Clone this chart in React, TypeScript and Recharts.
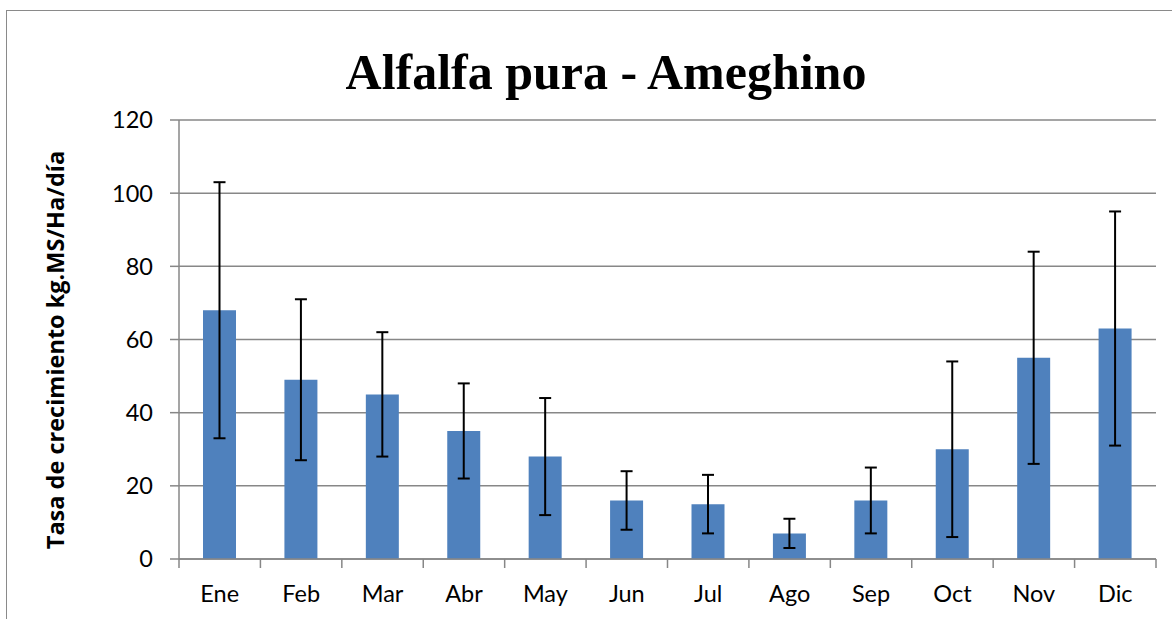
import React from 'react';
import { BarChart, Bar, XAxis, YAxis, CartesianGrid, ErrorBar } from 'recharts';

const months = ['Ene', 'Feb', 'Mar', 'Abr', 'May', 'Jun', 'Jul', 'Ago', 'Sep', 'Oct', 'Nov', 'Dic'];
const growth = [68, 49, 45, 35, 28, 16, 15, 7, 16, 30, 55, 63];
const errors = [35, 22, 17, 13, 16, 8, 8, 4, 9, 24, 29, 32];
const yTicks = [0, 20, 40, 60, 80, 100, 120];
const boundaryTicks = [0, 1, 2, 3, 4, 5, 6, 7, 8, 9, 10, 11, 12];

const data = months.map((m, i) => ({ month: m, value: growth[i], err: errors[i], pos: i + 0.5 }));

const tickFont = { fontFamily: 'Lato, "Open Sans", sans-serif', fontSize: 23.5, fill: '#000' };
const gray = '#878787';

const EmptyTick = () => <g />;

export default function App() {
  return (
    <div style={{ position: 'absolute', left: 0, top: 0, width: 1172, height: 619, overflow: 'hidden', background: '#fff' }}>
      <div style={{ position: 'absolute', left: 6, top: 10, width: 1300, height: 800, border: '1.5px solid #8a8a8a', boxSizing: 'border-box' }} />
      <div style={{ position: 'absolute', left: 0, top: 0 }}>
        <BarChart width={1172} height={619} data={data} margin={{ top: 120, right: 16, left: 0, bottom: 0 }} barSize={33}>
          <CartesianGrid vertical={false} stroke={gray} strokeWidth={1.5} />
          <XAxis
            dataKey="month"
            xAxisId="b_cat"
            height={59}
            tickLine={false}
            axisLine={false}
            tick={tickFont}
            tickMargin={19}
            interval={0}
          />
          <XAxis
            xAxisId="a_bounds"
            type="number"
            dataKey="pos"
            domain={[0, 12]}
            ticks={boundaryTicks}
            allowDataOverflow
            height={1}
            tick={EmptyTick}
            tickSize={9}
            tickLine={{ stroke: gray, strokeWidth: 1.5 }}
            axisLine={{ stroke: gray, strokeWidth: 1.5 }}
          />
          <YAxis
            width={179}
            domain={[0, 120]}
            ticks={yTicks}
            tick={tickFont}
            tickSize={9}
            tickMargin={17}
            tickLine={{ stroke: gray, strokeWidth: 1.5 }}
            axisLine={{ stroke: gray, strokeWidth: 1.5 }}
          />
          <Bar dataKey="value" xAxisId="b_cat" fill="#4F81BD" isAnimationActive={false}>
            <ErrorBar dataKey="err" width={6} stroke="#000" strokeWidth={2} direction="y" />
          </Bar>
        </BarChart>
      </div>
      <svg width={1172} height={619} style={{ position: 'absolute', left: 0, top: 0, pointerEvents: 'none' }}>
        <text x={606} y={89} textAnchor="middle" fontFamily='"Liberation Serif", serif' fontWeight="bold" fontSize={50} fill="#000">
          Alfalfa pura - Ameghino
        </text>
        <text
          x={0}
          y={0}
          transform="translate(64,350) rotate(-90)"
          textAnchor="middle"
          fontFamily='"Open Sans", Lato, sans-serif'
          fontWeight="bold"
          fontSize={23.5}
          fill="#000"
        >
          Tasa de crecimiento kg.MS/Ha/día
        </text>
      </svg>
    </div>
  );
}
